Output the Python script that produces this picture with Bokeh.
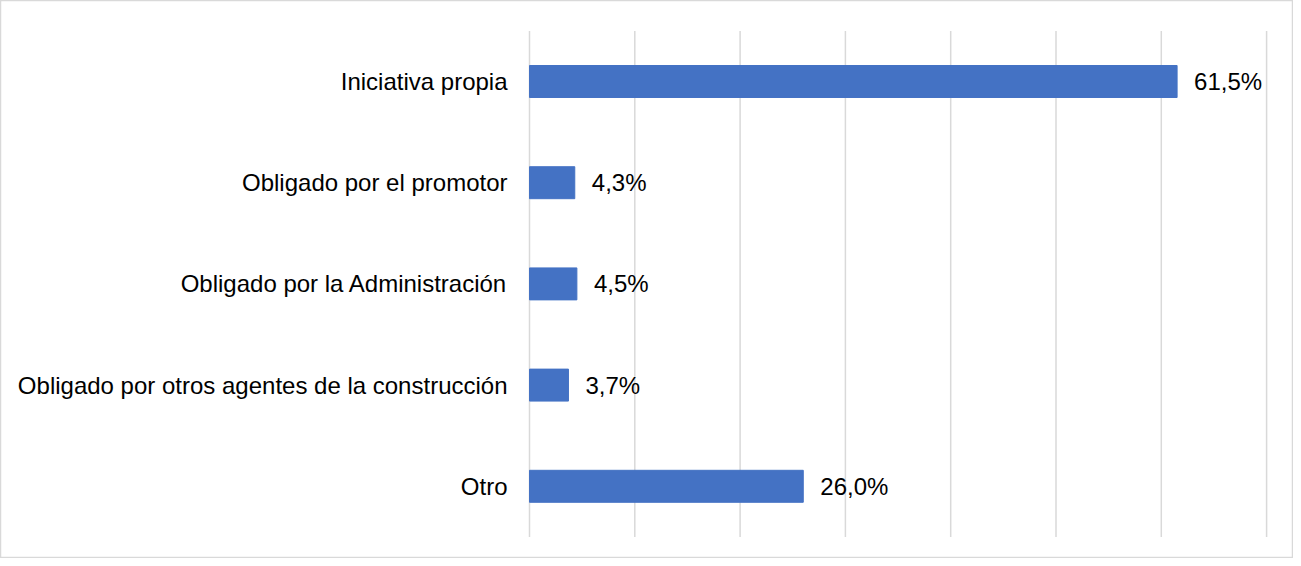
from bokeh.plotting import figure
from bokeh.models import Range1d, ColumnDataSource
from bokeh.core.properties import value
from bokeh.embed import file_html
from bokeh.resources import INLINE

categories = [
    "Iniciativa propia",
    "Obligado por el promotor",
    "Obligado por la Administración",
    "Obligado por otros agentes de la construcción",
    "Otro",
]
values = [61.5, 4.3, 4.5, 3.7, 26.0]
value_labels = ["61,5%", "4,3%", "4,5%", "3,7%", "26,0%"]
grid_ticks = [0, 10, 20, 30, 40, 50, 60, 70]

W, H = 1293, 558
px_per_unit = 10.53
x0_px = 529.0
x_start = -x0_px / px_per_unit
x_end = x_start + W / px_per_unit

band = 101.2
first_center_px = 81.0
y_top = -first_center_px / band
y_bottom = (H - first_center_px) / band

p = figure(width=W, height=H, output_backend="svg", toolbar_location=None,
           x_axis_location=None, y_axis_location=None,
           x_range=Range1d(x_start, x_end), y_range=Range1d(y_bottom, y_top),
           min_border=0, tools="")
p.xgrid.visible = False
p.ygrid.visible = False
p.outline_line_color = "#d9d9d9"
p.outline_line_width = 1.5
p.background_fill_color = "white"
p.border_fill_color = "white"

pos = list(range(len(categories)))
n = len(categories)

# grid lines
p.segment(x0=grid_ticks, x1=grid_ticks,
          y0=[-0.5] * len(grid_ticks), y1=[n - 0.5] * len(grid_ticks),
          line_color="#d9d9d9", line_width=1.5)

src = ColumnDataSource(dict(y=pos, v=values, cat=categories, lab=value_labels,
                            zero=[0] * n))

p.hbar(y="y", left="zero", right="v", height=0.316, source=src,
       fill_color="#4472C4", line_color="#4472C4")

p.text(x="v", y="y", text="lab", source=src, x_offset=17,
       text_align="left", text_baseline="middle",
       text_font=value("Liberation Sans"), text_font_size="24px",
       text_color="#000000")

p.text(x="zero", y="y", text="cat", source=src, x_offset=-22,
       text_align="right", text_baseline="middle",
       text_font=value("Liberation Sans"), text_font_size="24px",
       text_color="#000000")

open("out.html", "w").write(file_html(p, INLINE))
